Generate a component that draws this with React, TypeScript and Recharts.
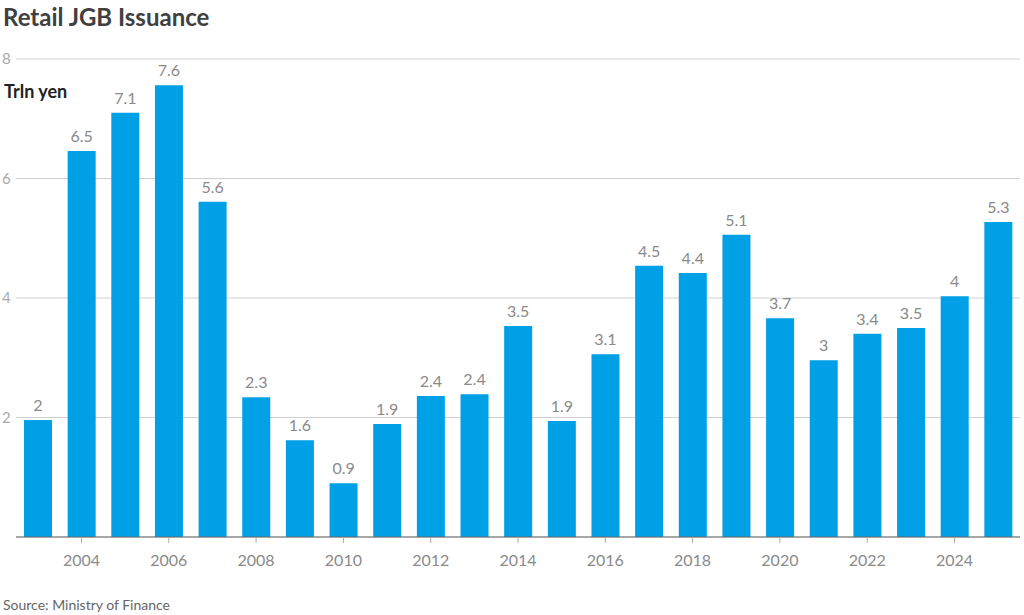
import React from "react";
import {
  BarChart,
  Bar,
  XAxis,
  YAxis,
  CartesianGrid,
  LabelList,
} from "recharts";

const years = [
  "2003", "2004", "2005", "2006", "2007", "2008", "2009", "2010", "2011", "2012",
  "2013", "2014", "2015", "2016", "2017", "2018", "2019", "2020", "2021", "2022",
  "2023", "2024", "2025",
];
const issuance = [
  1.96, 6.46, 7.1, 7.56, 5.61, 2.34, 1.62, 0.9, 1.89, 2.36, 2.39, 3.53, 1.94,
  3.06, 4.54, 4.42, 5.06, 3.66, 2.96, 3.4, 3.5, 4.03, 5.27,
];
const yTicks = [0, 2, 4, 6, 8];

const data = years.map((year, i) => ({ year, value: issuance[i] }));

const FONT = "Lato, 'Noto Sans', sans-serif";
const BLUE = "#00a0e6";

function YearTick(props: any) {
  const { x, y, payload } = props;
  if (Number(payload.value) % 2 !== 0) return null;
  return (
    <g>
      <line x1={x} x2={x} y1={y - 8} y2={y - 2} stroke="#aaa" />
      <text
        x={x}
        y={y + 21}
        textAnchor="middle"
        fill="#8a8a8a"
        fontSize={16}
        fontFamily={FONT}
      >
        {payload.value}
      </text>
    </g>
  );
}

function ValueTick(props: any) {
  const { y, payload } = props;
  if (payload.value === 0) return null;
  return (
    <text
      x={2}
      y={y + 5}
      textAnchor="start"
      fill="#aaa"
      fontSize={15}
      fontFamily={FONT}
    >
      {payload.value}
    </text>
  );
}

export default function App() {
  return (
    <div
      style={{
        position: "absolute",
        left: 0,
        top: 0,
        width: 1024,
        height: 615,
        background: "#fff",
        fontFamily: FONT,
      }}
    >
      <div
        style={{
          position: "absolute",
          left: 3,
          top: 2,
          fontSize: 24,
          fontWeight: 700,
          color: "#404040",
        }}
      >
        Retail JGB Issuance
      </div>
      <div
        style={{
          position: "absolute",
          left: 4,
          top: 80,
          fontSize: 18,
          fontWeight: 700,
          color: "#222",
          zIndex: 2,
        }}
      >
        Trln yen
      </div>
      <div
        style={{
          position: "absolute",
          left: 3,
          top: 596,
          fontSize: 14,
          color: "#666",
        }}
      >
        Source: Ministry of Finance
      </div>
      <BarChart
        width={1024}
        height={615}
        data={data}
        margin={{ top: 59, right: 4, left: 0, bottom: 48 }}
      >
        <CartesianGrid vertical={false} stroke="#d0d0d0" />
        <YAxis
          domain={[0, 8]}
          ticks={yTicks}
          width={16}
          axisLine={false}
          tickLine={false}
          tick={<ValueTick />}
        />
        <XAxis
          dataKey="year"
          height={30}
          interval={0}
          stroke="#666"
          tickLine={false}
          tick={<YearTick />}
        />
        <Bar dataKey="value" fill={BLUE} barSize={28} isAnimationActive={false}>
          <LabelList
            dataKey="value"
            position="top"
            offset={9}
            formatter={(v: any) => String(Number(Number(v).toFixed(1)))}
            style={{ fontSize: 16, fill: "#8a8a8a", fontFamily: FONT }}
          />
        </Bar>
      </BarChart>
    </div>
  );
}
